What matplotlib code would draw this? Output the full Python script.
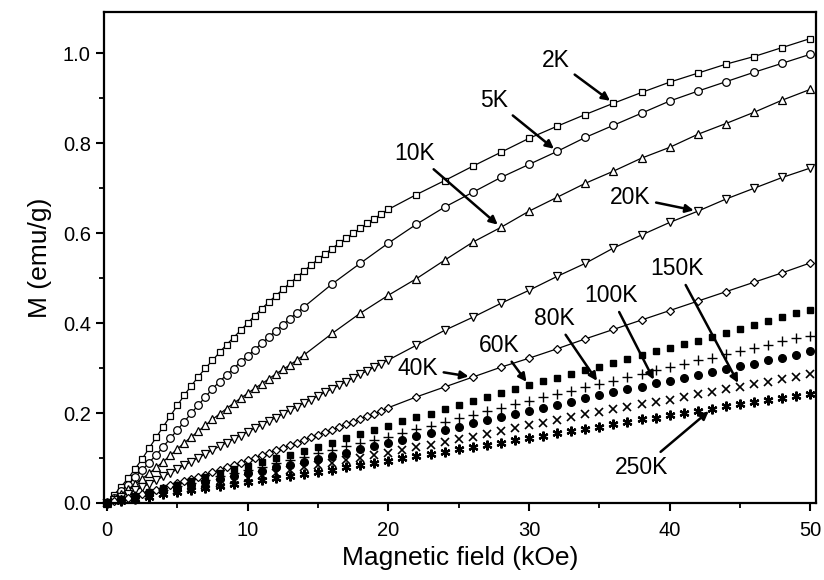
import matplotlib
matplotlib.use("Agg")
import matplotlib.pyplot as plt
from matplotlib.ticker import MultipleLocator

plt.rcParams["font.family"] = ["Liberation Sans", "DejaVu Sans"]

# field grids (kOe)
h_fine20 = [0, 0.5, 1, 1.5, 2, 2.5, 3, 3.5, 4, 4.5, 5, 5.5, 6, 6.5, 7, 7.5, 8, 8.5, 9, 9.5,
            10, 10.5, 11, 11.5, 12, 12.5, 13, 13.5, 14, 14.5, 15, 15.5, 16, 16.5, 17, 17.5,
            18, 18.5, 19, 19.5, 20,
            22, 24, 26, 28, 30, 32, 34, 36, 38, 40, 42, 44, 46, 48, 50]
h_fine14 = [0, 0.5, 1, 1.5, 2, 2.5, 3, 3.5, 4, 4.5, 5, 5.5, 6, 6.5, 7, 7.5, 8, 8.5, 9, 9.5,
            10, 10.5, 11, 11.5, 12, 12.5, 13, 13.5, 14,
            16, 18, 20, 22, 24, 26, 28, 30, 32, 34, 36, 38, 40, 42, 44, 46, 48, 50]
h_step1 = list(range(0, 51))

# magnetization (emu/g)
m_2k = [0.000, 0.018, 0.036, 0.055, 0.076, 0.098, 0.122, 0.146, 0.170, 0.193, 0.217, 0.240,
        0.261, 0.281, 0.300, 0.317, 0.335, 0.352, 0.368, 0.384, 0.400, 0.417, 0.432, 0.447,
        0.461, 0.475, 0.489, 0.502, 0.516, 0.529, 0.542, 0.554, 0.566, 0.578, 0.589, 0.600,
        0.611, 0.622, 0.632, 0.643, 0.653,
        0.686, 0.717, 0.749, 0.780, 0.811, 0.838, 0.864, 0.889, 0.913, 0.936, 0.956, 0.976,
        0.993, 1.013, 1.033]
m_5k = [0.000, 0.012, 0.026, 0.041, 0.057, 0.073, 0.090, 0.107, 0.125, 0.144, 0.162, 0.181,
        0.200, 0.218, 0.236, 0.254, 0.270, 0.285, 0.299, 0.314, 0.327, 0.341, 0.355, 0.369,
        0.383, 0.396, 0.410, 0.423, 0.436,
        0.487, 0.533, 0.578, 0.620, 0.658, 0.691, 0.724, 0.753, 0.782, 0.813, 0.840, 0.867,
        0.894, 0.916, 0.937, 0.958, 0.978, 0.998]
m_10k = [0.000, 0.010, 0.020, 0.031, 0.042, 0.054, 0.066, 0.079, 0.092, 0.106, 0.120, 0.134,
         0.147, 0.160, 0.173, 0.186, 0.198, 0.210, 0.222, 0.233, 0.244, 0.255, 0.265, 0.276,
         0.287, 0.297, 0.307, 0.318, 0.329,
         0.377, 0.422, 0.462, 0.499, 0.540, 0.580, 0.613, 0.649, 0.680, 0.711, 0.738, 0.767,
         0.791, 0.820, 0.844, 0.869, 0.896, 0.920]
m_20k = [0.000, 0.007, 0.014, 0.021, 0.028, 0.035, 0.043, 0.051, 0.059, 0.067, 0.075, 0.084,
         0.092, 0.101, 0.109, 0.118, 0.126, 0.134, 0.142, 0.150, 0.158, 0.166, 0.174, 0.182,
         0.190, 0.198, 0.206, 0.214, 0.222, 0.230, 0.238, 0.246, 0.254, 0.262, 0.270, 0.278,
         0.286, 0.294, 0.302, 0.310, 0.318,
         0.351, 0.384, 0.413, 0.444, 0.473, 0.504, 0.533, 0.567, 0.596, 0.624, 0.649, 0.676,
         0.700, 0.724, 0.745]
m_40k = [0.000, 0.004, 0.008, 0.012, 0.016, 0.021, 0.025, 0.030, 0.034, 0.039, 0.044, 0.048,
         0.053, 0.058, 0.063, 0.068, 0.073, 0.079, 0.084, 0.089, 0.095, 0.100, 0.106, 0.111,
         0.117, 0.122, 0.128, 0.134, 0.140, 0.146, 0.152, 0.157, 0.163, 0.169, 0.175, 0.181,
         0.187, 0.193, 0.199, 0.205, 0.212,
         0.236, 0.258, 0.280, 0.302, 0.322, 0.343, 0.365, 0.386, 0.407, 0.428, 0.449, 0.470,
         0.491, 0.512, 0.534]
m_60k = [0.000, 0.008, 0.016, 0.025, 0.033, 0.041, 0.050, 0.058, 0.066, 0.075, 0.083, 0.091,
         0.099, 0.107, 0.116, 0.125, 0.134, 0.144, 0.153, 0.162, 0.172, 0.182, 0.191, 0.199,
         0.208, 0.218, 0.227, 0.236, 0.245, 0.254, 0.262, 0.271, 0.279, 0.287, 0.296, 0.303,
         0.311, 0.320, 0.329, 0.337, 0.345, 0.353, 0.361, 0.369, 0.378, 0.387, 0.396, 0.405,
         0.413, 0.422, 0.430]
m_80k = [0.000, 0.007, 0.015, 0.022, 0.030, 0.037, 0.044, 0.052, 0.059, 0.066, 0.074, 0.081,
         0.089, 0.096, 0.103, 0.111, 0.118, 0.126, 0.133, 0.140, 0.147, 0.156, 0.164, 0.172,
         0.180, 0.188, 0.196, 0.204, 0.212, 0.220, 0.227, 0.235, 0.242, 0.250, 0.258, 0.264,
         0.272, 0.280, 0.288, 0.295, 0.302, 0.309, 0.317, 0.323, 0.332, 0.339, 0.345, 0.352,
         0.360, 0.366, 0.372]
m_100k = [0.000, 0.007, 0.013, 0.020, 0.026, 0.033, 0.039, 0.046, 0.053, 0.059, 0.066, 0.072,
          0.079, 0.085, 0.091, 0.097, 0.104, 0.111, 0.119, 0.127, 0.134, 0.141, 0.149, 0.155,
          0.162, 0.170, 0.177, 0.184, 0.191, 0.198, 0.204, 0.212, 0.219, 0.225, 0.233, 0.240,
          0.246, 0.253, 0.259, 0.266, 0.272, 0.279, 0.285, 0.292, 0.298, 0.304, 0.310, 0.317,
          0.323, 0.329, 0.337]
m_150k = [0.000, 0.006, 0.011, 0.017, 0.023, 0.028, 0.034, 0.039, 0.045, 0.051, 0.056, 0.062,
          0.067, 0.073, 0.079, 0.084, 0.090, 0.095, 0.101, 0.106, 0.112, 0.118, 0.124, 0.129,
          0.136, 0.142, 0.147, 0.154, 0.160, 0.167, 0.173, 0.178, 0.184, 0.191, 0.197, 0.203,
          0.208, 0.214, 0.220, 0.225, 0.230, 0.236, 0.242, 0.247, 0.254, 0.259, 0.264, 0.270,
          0.275, 0.281, 0.286]
m_250k = [0.000, 0.005, 0.010, 0.014, 0.019, 0.024, 0.028, 0.033, 0.037, 0.042, 0.047, 0.051,
          0.056, 0.060, 0.065, 0.069, 0.074, 0.079, 0.084, 0.089, 0.094, 0.099, 0.104, 0.109,
          0.114, 0.119, 0.124, 0.129, 0.134, 0.140, 0.145, 0.150, 0.155, 0.160, 0.165, 0.170,
          0.176, 0.181, 0.186, 0.190, 0.195, 0.200, 0.205, 0.210, 0.215, 0.220, 0.225, 0.229,
          0.234, 0.238, 0.243]

fig = plt.figure(figsize=(8.24, 5.80), dpi=100)
ax = fig.add_axes([104 / 824, 77 / 580, 712 / 824, 491 / 580])

open_kw = dict(color="black", lw=0.9, mfc="white", mec="black", mew=0.9, clip_on=False)
ax.plot(h_fine20, m_2k, marker="s", ms=5, **open_kw)
ax.plot(h_fine14, m_5k, marker="o", ms=5.5, **open_kw)
ax.plot(h_fine14, m_10k, marker="^", ms=6, **open_kw)
ax.plot(h_fine20, m_20k, marker="v", ms=6, **open_kw)
ax.plot(h_fine20, m_40k, marker="D", ms=4.5, **open_kw)

pt_kw = dict(color="black", ls="none", clip_on=False)
ax.plot(h_step1, m_60k, marker="s", ms=5, **pt_kw)
ax.plot(h_step1, m_80k, marker="+", ms=7, mew=1.0, **pt_kw)
ax.plot(h_step1, m_100k, marker="o", ms=5.5, **pt_kw)
ax.plot(h_step1, m_150k, marker="x", ms=6, mew=1.2, **pt_kw)
ax.plot(h_step1, m_250k, marker=(6, 2, 0), ms=7, mew=1.6, **pt_kw)

# temperature labels: (text, text x, text y, field of target point, series, grid)
arrow_kw = dict(arrowstyle="-|>", color="black", lw=1.8, mutation_scale=12,
                shrinkA=2, shrinkB=3)
labels = [
    ("2K", 31.9, 0.984, 36, m_2k, h_fine20),
    ("5K", 27.5, 0.896, 32, m_5k, h_fine14),
    ("10K", 21.9, 0.778, 28, m_10k, h_fine14),
    ("20K", 37.2, 0.680, 42, m_20k, h_fine20),
    ("40K", 22.1, 0.300, 26, m_40k, h_fine20),
    ("60K", 27.9, 0.351, 30, m_60k, h_step1),
    ("80K", 31.8, 0.411, 35, m_80k, h_step1),
    ("100K", 35.8, 0.462, 39, m_100k, h_step1),
    ("150K", 40.5, 0.522, 45, m_150k, h_step1),
    ("250K", 38.0, 0.078, 43, m_250k, h_step1),
]
for txt, tx, ty, hx, series, grid in labels:
    my = series[grid.index(hx)]
    ax.annotate(txt, xy=(hx, my), xytext=(tx, ty), fontsize=16.5,
                ha="center", va="center", arrowprops=arrow_kw)

ax.set_xlim(-0.21, 50.4)
ax.set_ylim(0, 1.092)
ax.xaxis.set_major_locator(MultipleLocator(10))
ax.xaxis.set_minor_locator(MultipleLocator(5))
ax.yaxis.set_major_locator(MultipleLocator(0.2))
ax.yaxis.set_minor_locator(MultipleLocator(0.1))
ax.yaxis.set_major_formatter(matplotlib.ticker.FormatStrFormatter("%.1f"))

for s in ax.spines.values():
    s.set_linewidth(1.6)
ax.tick_params(which="major", direction="out", length=6, width=1.5, labelsize=14.5,
               top=False, right=False)
ax.tick_params(axis="x", which="major", pad=7)
ax.tick_params(which="minor", direction="out", length=3.5, width=1.3, top=False, right=False)

ax.set_xlabel("Magnetic field (kOe)", fontsize=19, labelpad=4)
ax.set_ylabel("M (emu/g)", fontsize=19, labelpad=8)

fig.savefig("out.png", dpi=100)
